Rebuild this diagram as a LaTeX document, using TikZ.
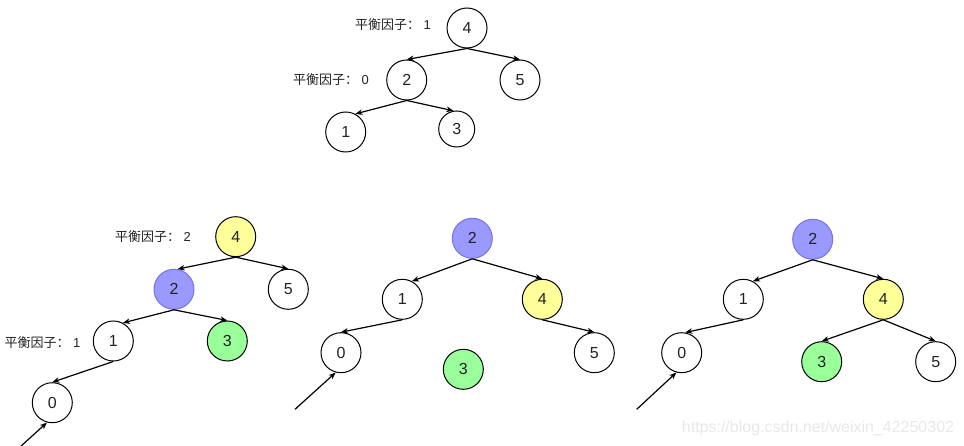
\documentclass[tikz,border=0pt]{standalone}
\usepackage{fontspec}
\setmainfont{Liberation Sans}
\newfontfamily\cjk{Noto Sans CJK SC}
\usetikzlibrary{arrows.meta}
\definecolor{yfill}{HTML}{FFFF99}
\definecolor{bfill}{HTML}{9999FF}
\definecolor{bdraw}{HTML}{7373E6}
\definecolor{gfill}{HTML}{99FF99}
\definecolor{txt}{HTML}{222222}
\definecolor{wm}{HTML}{E8E8E8}
\tikzset{
  nd/.style={circle, draw=black, line width=1pt, minimum size=40pt, inner sep=0pt,
    font=\fontsize{16}{17}\selectfont, text=txt},
  yel/.style={nd, fill=yfill},
  blu/.style={nd, fill=bfill, draw=bdraw},
  grn/.style={nd, fill=gfill},
  lab/.style={font=\fontsize{13}{14}\selectfont, text=txt, inner sep=0pt},
  edge/.style={line width=1.2pt, -{Stealth[length=7pt,width=5.5pt,inset=2pt]}},
}
\begin{document}
\begin{tikzpicture}[x=1pt,y=-1pt]
\useasboundingbox (0,0) rectangle (964,446);
% top tree
\node[nd] (t4) at (467,28) {4};
\node[nd] (t2) at (406.7,80) {2};
\node[nd] (t5) at (520,80) {5};
\node[nd] (t1) at (345.7,132) {1};
\node[nd, minimum size=36pt] (t3) at (456.7,129) {3};
\node[lab] (lt1) at (393,25) {{\cjk 平衡因子：} 1};
\node[lab] (lt2) at (331,80) {{\cjk 平衡因子：} 0};
\draw[edge] (t4.south) -- (t2.north);
\draw[edge] (t4.south) -- (t5.north);
\draw[edge] (t2.south) -- (t1.62);
\draw[edge] (t2.south) -- (t3.100);
% bottom left
\node[yel] (a4) at (235.7,236.7) {4};
\node[blu] (a2) at (174,289.3) {2};
\node[nd] (a5) at (288.3,289.3) {5};
\node[nd] (a1) at (113.3,341) {1};
\node[grn] (a3) at (227.3,341) {3};
\node[nd] (a0) at (52.3,402.7) {0};
\node[lab] (la4) at (153,237) {{\cjk 平衡因子：} 2};
\node[lab] (la1) at (42.5,343) {{\cjk 平衡因子：} 1};
\coordinate (fa) at (20,447);
\draw[edge] (a4.south) -- (a2.80);
\draw[edge] (a4.south) -- (a5.north);
\draw[edge] (a2.south) -- (a1.62);
\draw[edge] (a2.south) -- (a3.north);
\draw[edge] (a1.south) -- (a0.north);
\draw[edge] (fa) -- (a0.-105);
% middle
\node[blu] (b2) at (472.3,238.3) {2};
\node[nd] (b1) at (402.3,299.3) {1};
\node[yel] (b4) at (542.3,299.3) {4};
\node[nd] (b0) at (341,352.7) {0};
\node[grn] (b3) at (463.3,369.3) {3};
\node[nd] (b5) at (594.3,352.7) {5};
\coordinate (fb) at (295,409.3);
\draw[edge] (b2.south) -- (b1.62);
\draw[edge] (b2.south) -- (b4.north);
\draw[edge] (b1.south) -- (b0.north);
\draw[edge] (b4.south) -- (b5.north);
\draw[edge] (fb) -- (b0.-105);
% right
\node[blu] (c2) at (812.7,239.3) {2};
\node[nd] (c1) at (743.3,299.3) {1};
\node[yel] (c4) at (883.3,299.3) {4};
\node[nd] (c0) at (681.7,352.7) {0};
\node[grn] (c3) at (821.7,361.7) {3};
\node[nd] (c5) at (935.7,361.7) {5};
\coordinate (fc) at (636.7,409.3);
\draw[edge] (c2.south) -- (c1.62);
\draw[edge] (c2.south) -- (c4.north);
\draw[edge] (c1.south) -- (c0.80);
\draw[edge] (c4.south) -- (c3.north);
\draw[edge] (c4.south) -- (c5.north);
\draw[edge] (fc) -- (c0.-105);
% watermark
\node[font=\fontsize{16}{17}\selectfont, text=wm, inner sep=0pt] (wmk) at (818,428) {https://blog.csdn.net/weixin\_42250302};
\end{tikzpicture}
\end{document}
